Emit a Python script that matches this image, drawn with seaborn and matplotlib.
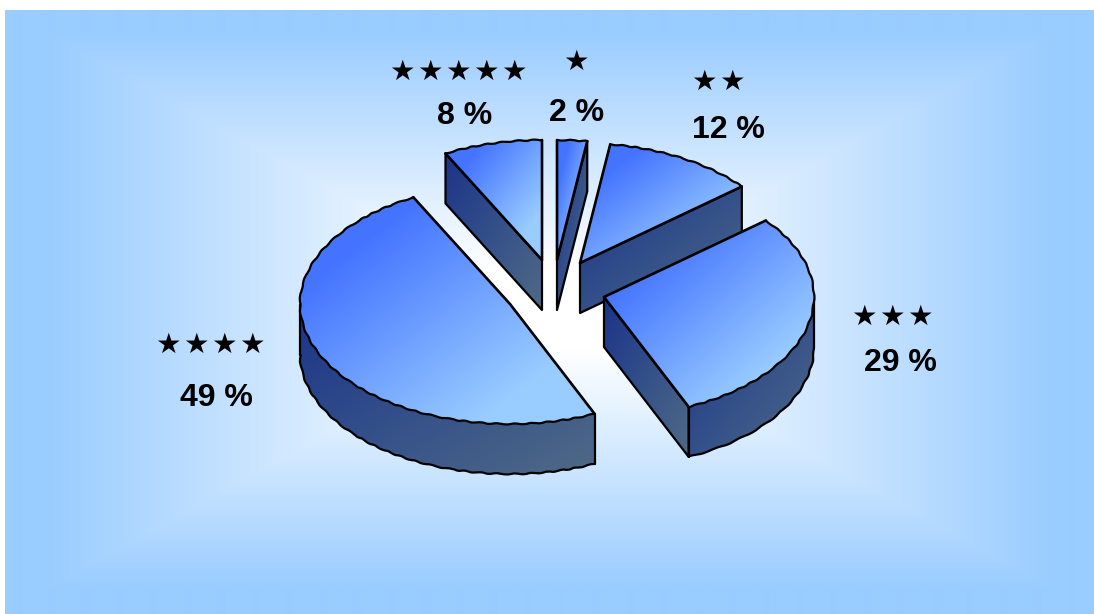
import numpy as np
import matplotlib
matplotlib.use("Agg")
import matplotlib.pyplot as plt
from matplotlib.patches import Polygon
import seaborn as sns

star_counts = [1, 2, 3, 4, 5]
shares = [2.3, 11.7, 29.4, 49.0, 7.6]
share_labels = ["2 %", "12 %", "29 %", "49 %", "8 %"]

# styles / layout (pixels)
W, H = 1094, 614
RX, RY, DEPTH = 210, 120, 50
STAR_STEP = 28
tips = [(557, 260), (580, 263), (604, 297), (510, 304), (542, 260)]
star_pos = [(576, 62), (718, 82), (892, 317), (210, 345), (458, 72)]
label_pos = [(577, 113), (728, 130), (900, 363), (216, 398), (465, 116)]

sns.set_theme(style="white")
plt.rcParams["font.family"] = ["Liberation Sans", "DejaVu Sans"]

ramp = sns.blend_palette(["#4474FF", "#99CCFF"], 4)
top_cmap = sns.blend_palette([ramp[0]] + list(ramp) + [ramp[-1]], as_cmap=True)
wall_cmap = sns.blend_palette(["#1C3388", "#34508A", "#4F6A85"], as_cmap=True)
bg_cmap = sns.blend_palette(["#FFFFFF", "#99CCFF"], as_cmap=True)

fig = plt.figure(figsize=(W / 100, H / 100), dpi=100, facecolor="white")
ax = fig.add_axes([0, 0, 1, 1])
ax.set_axis_off()

# background: rectangular path gradient
xx, yy = np.meshgrid(np.linspace(5, W, 545), np.linspace(10, H, 302))
d = np.maximum(np.abs(xx - 550) / 545, np.abs(yy - 310) / 302)
ax.imshow(np.clip((d - 0.13) / 0.80, 0, 1), cmap=bg_cmap, vmin=0, vmax=1,
          extent=(5, W, H, 10), aspect="auto", zorder=0, interpolation="bilinear")


def fill(poly, cmap, z):
    poly = np.asarray(poly)
    x0, y0 = poly.min(axis=0)
    x1, y1 = poly.max(axis=0)
    gx, gy = np.meshgrid(np.linspace(0, 1, 128), np.linspace(0, 1, 128))
    img = ax.imshow((gx + gy) / 2, cmap=cmap, vmin=0, vmax=1,
                    extent=(x0, x1, y1, y0), aspect="auto", zorder=z,
                    interpolation="bilinear")
    patch = Polygon(poly, closed=True, transform=ax.transData, fc="none", ec="none")
    ax.add_patch(patch)
    img.set_clip_path(patch)


def line(pts, z, lw=1.6, wavy=False):
    pts = np.asarray(pts)
    ln, = ax.plot(pts[:, 0], pts[:, 1], color="black", lw=lw, zorder=z,
                  solid_joinstyle="round", solid_capstyle="round")
    if wavy:
        ln.set_sketch_params(scale=0.5, length=16, randomness=2)


fractions = np.cumsum([0] + shares) / sum(shares)
z = 1
for i, (tip, s) in enumerate(zip(tips, shares)):
    a0, a1 = 2 * np.pi * fractions[i], 2 * np.pi * fractions[i + 1]
    tx, ty = tip

    def pt(t, drop=0.0):
        return np.column_stack([tx + RX * np.sin(t), ty - RY * np.cos(t) + drop])

    ts = np.linspace(a0, a1, 200)
    arc = pt(ts)
    tipv = np.array([[tx, ty]])

    # radial walls
    for edge, visible in ((a1, np.cos(a1 + np.pi / 2) < -1e-6),
                          (a0, np.cos(a0 - np.pi / 2) < -1e-6)):
        if visible:
            p = pt(np.array([edge]))[0]
            wall = np.array([[tx, ty], p, p + [0, DEPTH], [tx, ty + DEPTH]])
            fill(wall, wall_cmap, z)
            line(np.vstack([wall, wall[:1]]), z + 0.5)

    # outer wall
    front = ts[np.cos(ts) < 0]
    if len(front):
        up = pt(front)
        down = pt(front, DEPTH)
        wall = np.vstack([up, down[::-1]])
        fill(wall, wall_cmap, z)
        line(down, z + 0.5, wavy=True)
        line(np.vstack([up[:1], down[:1]]), z + 0.5)
        line(np.vstack([up[-1:], down[-1:]]), z + 0.5)

    # top face
    face = np.vstack([tipv, arc])
    fill(face, top_cmap, z + 1)
    line(arc, z + 1.5, wavy=True)
    line(np.vstack([arc[-1:], tipv, arc[:1]]), z + 1.5, lw=1.9)
    z += 2

for (x, y), n in zip(star_pos, star_counts):
    for k in range(n):
        ax.text(x + (k - (n - 1) / 2) * STAR_STEP, y, "★", ha="center", va="center",
                fontsize=20.5, color="black", family=["DejaVu Sans"], zorder=50)
for (x, y), txt in zip(label_pos, share_labels):
    ax.text(x, y, txt, ha="center", va="center", fontsize=23, fontweight="bold",
            color="black", zorder=50)

ax.set_xlim(0, W)
ax.set_ylim(H, 0)
fig.savefig("out.png", dpi=100, facecolor="white")
